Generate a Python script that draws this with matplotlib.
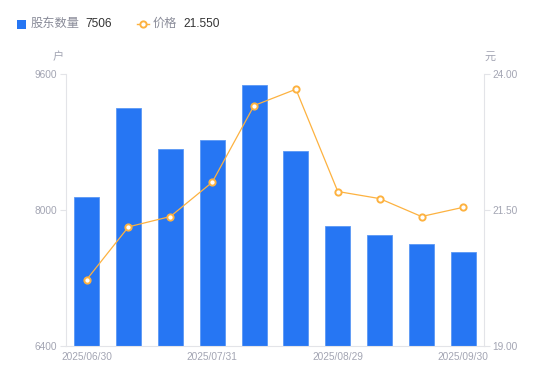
import matplotlib
matplotlib.use("Agg")
import matplotlib.pyplot as plt
from matplotlib.lines import Line2D
from matplotlib.patches import Rectangle
import numpy as np

plt.rcParams['font.family'] = ['Liberation Sans', 'Noto Sans CJK SC', 'DejaVu Sans']

dates = ["2025/06/30", "", "", "2025/07/31", "", "", "2025/08/29", "", "", "2025/09/30"]
holders = [8156, 9196, 8718, 8820, 9470, 8698, 7808, 7702, 7596, 7506]
price = [20.22, 21.19, 21.38, 22.01, 23.42, 23.72, 21.84, 21.71, 21.38, 21.55]
left_ticks = [6400, 8000, 9600]
right_ticks = [19.00, 21.50, 24.00]

W, H = 550, 381
fig = plt.figure(figsize=(W/100, H/100), dpi=100)
ax = fig.add_axes([65.7/W, 1-346/H, (484.3-65.7)/W, (346-74)/H])

blue = '#2676F3'
orange = '#FDB240'
grey_txt = '#A3A5B3'
axis_col = '#E3E4E8'

x = np.arange(len(holders))
ax.bar(x, holders, width=0.6, color=blue, edgecolor='#5B98F5', linewidth=0.6, zorder=2)
ax.set_xlim(-0.5, len(holders)-0.5)
ax.set_ylim(left_ticks[0], left_ticks[-1])
ax.set_yticks(left_ticks)
ax.set_yticklabels([str(t) for t in left_ticks])
ax.set_xticks(x)
ax.set_xticklabels(dates)

ax2 = ax.twinx()
ax2.plot(x, price, color=orange, linewidth=0.9, marker='o', markersize=4.5,
         markerfacecolor='white', markeredgecolor=orange, markeredgewidth=1.4, zorder=3)
ax2.set_ylim(right_ticks[0], right_ticks[-1])
ax2.set_yticks(right_ticks)
ax2.set_yticklabels([f"{t:.2f}" for t in right_ticks])

for a in (ax, ax2):
    for s in a.spines.values():
        s.set_visible(False)
    a.tick_params(axis='y', colors=axis_col, labelcolor=grey_txt, labelsize=7.3, length=4, width=0.8, pad=2)
    a.tick_params(axis='x', length=0, labelcolor=grey_txt, labelsize=7.3, pad=4)
ax.spines['left'].set_visible(True)
ax.spines['left'].set_color(axis_col)
ax.spines['bottom'].set_visible(True)
ax.spines['bottom'].set_color(axis_col)
ax2.spines['right'].set_visible(True)
ax2.spines['right'].set_color(axis_col)
ax.set_zorder(1)
ax2.set_zorder(2)
ax2.patch.set_visible(False)

# units
fig.text(58/W, 1-57/H, '户', color=grey_txt, fontsize=8, ha='center', va='center')
fig.text(490/W, 1-57/H, '元', color=grey_txt, fontsize=8, ha='center', va='center')

# legend
ly = 1-24/H
fig.add_artist(Rectangle((17/W, 1-28.5/H), 9/W, 9/H, transform=fig.transFigure,
                         facecolor=blue, edgecolor='none'))
fig.text(31/W, ly, '股东数量', color='#8A8C99', fontsize=8.8, ha='left', va='center')
fig.text(85/W, ly, str(holders[-1]), color='#333333', fontsize=8.6, ha='left', va='center')
fig.add_artist(Line2D([137/W, 149/W], [ly, ly], transform=fig.transFigure, color=orange, linewidth=1))
fig.add_artist(Line2D([143/W], [ly], transform=fig.transFigure, marker='o', markersize=4.5,
                      markerfacecolor='white', markeredgecolor=orange, markeredgewidth=1.4))
fig.text(153/W, ly, '价格', color='#8A8C99', fontsize=8.8, ha='left', va='center')
fig.text(183/W, ly, f"{price[-1]:.3f}", color='#333333', fontsize=8.6, ha='left', va='center')

fig.savefig('out.png', dpi=100)
